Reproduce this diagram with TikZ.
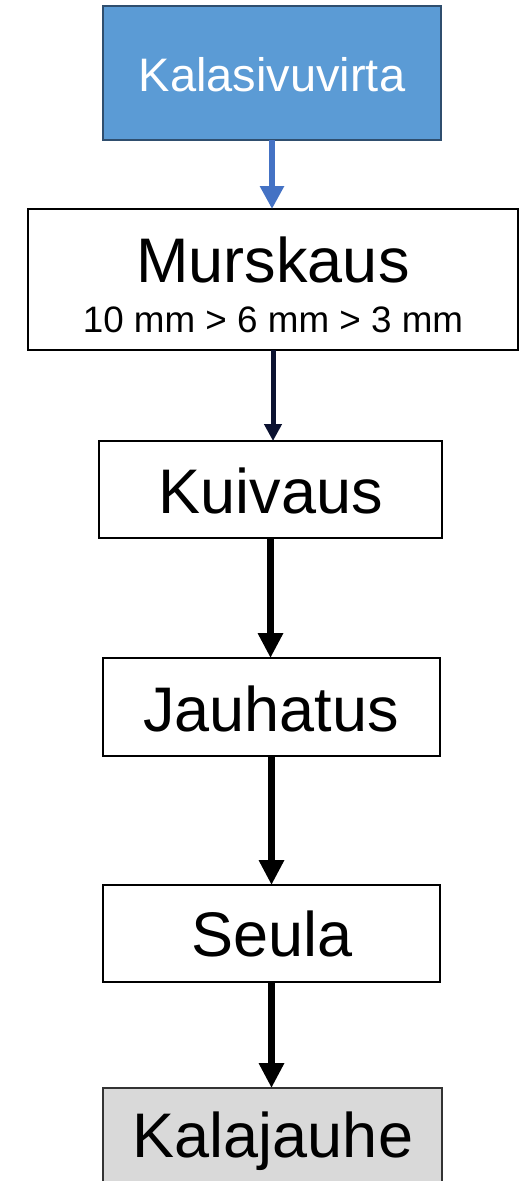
\documentclass[tikz,border=0pt]{standalone}
\usepackage{fontspec}
\setmainfont{Liberation Sans}
\usetikzlibrary{arrows.meta}
\definecolor{topfill}{HTML}{5B9BD5}
\definecolor{topline}{HTML}{2F4E6E}
\definecolor{bluearrow}{HTML}{4472C4}
\definecolor{navyarrow}{HTML}{0B1230}
\definecolor{greyfill}{HTML}{D9D9D9}
\tikzset{
  box/.style={draw=black, line width=1.6pt, fill=white, inner sep=0pt, outer sep=0pt},
  lbl/.style={anchor=base, inner sep=0pt, outer sep=0pt},
  bigtxt/.style={font=\fontsize{63}{63}\selectfont},
  flow/.style={line width=7pt, draw=black, -{Triangle[length=25pt,width=24pt]}},
}
\begin{document}
\begin{tikzpicture}[x=1pt,y=-1pt]
\useasboundingbox (0,0) rectangle (526,1181);
% boxes
\node[box, fill=topfill, draw=topline, line width=2pt, minimum width=338pt, minimum height=134pt, anchor=north west] (src) at (103,6) {};
\node[box, minimum width=490pt, minimum height=141pt, anchor=north west] (mur) at (28,209) {};
\node[box, minimum width=343pt, minimum height=97pt, anchor=north west] (kui) at (99,441) {};
\node[box, minimum width=337pt, minimum height=98pt, anchor=north west] (jau) at (103,658) {};
\node[box, minimum width=337pt, minimum height=97pt, anchor=north west] (seu) at (103,885) {};
\node[box, fill=greyfill, draw=black!80, minimum width=339pt, minimum height=130pt, anchor=north west] (kal) at (103,1088) {};
% texts
\node[lbl, text=white, font=\fontsize{47}{47}\selectfont] (tsrc) at (272,91) {Kalasivuvirta};
\node[lbl, bigtxt] (tmur) at (273,282) {Murskaus};
\node[lbl, font=\fontsize{36.8}{36.8}\selectfont] (tmur2) at (273,332) {10 mm > 6 mm > 3 mm};
\node[lbl, bigtxt] (tkui) at (271,513) {Kuivaus};
\node[lbl, bigtxt] (tjau) at (271,731) {Jauhatus};
\node[lbl, bigtxt] (tseu) at (272,956) {Seula};
\node[lbl, bigtxt] (tkal) at (273,1157) {Kalajauhe};
% connectors
\draw[line width=6.5pt, draw=bluearrow, -{Triangle[length=23pt,width=23pt]}] (src.south) -- (src.south |- mur.north);
\draw[line width=5pt, draw=navyarrow, -{Triangle[length=17pt,width=17pt]}] (mur.south) -- (mur.south |- kui.north);
\draw[flow] (kui.south) -- (kui.south |- jau.north);
\draw[flow] (jau.south) -- (jau.south |- seu.north);
\draw[flow] (seu.south) -- (seu.south |- kal.north);
\end{tikzpicture}
\end{document}
